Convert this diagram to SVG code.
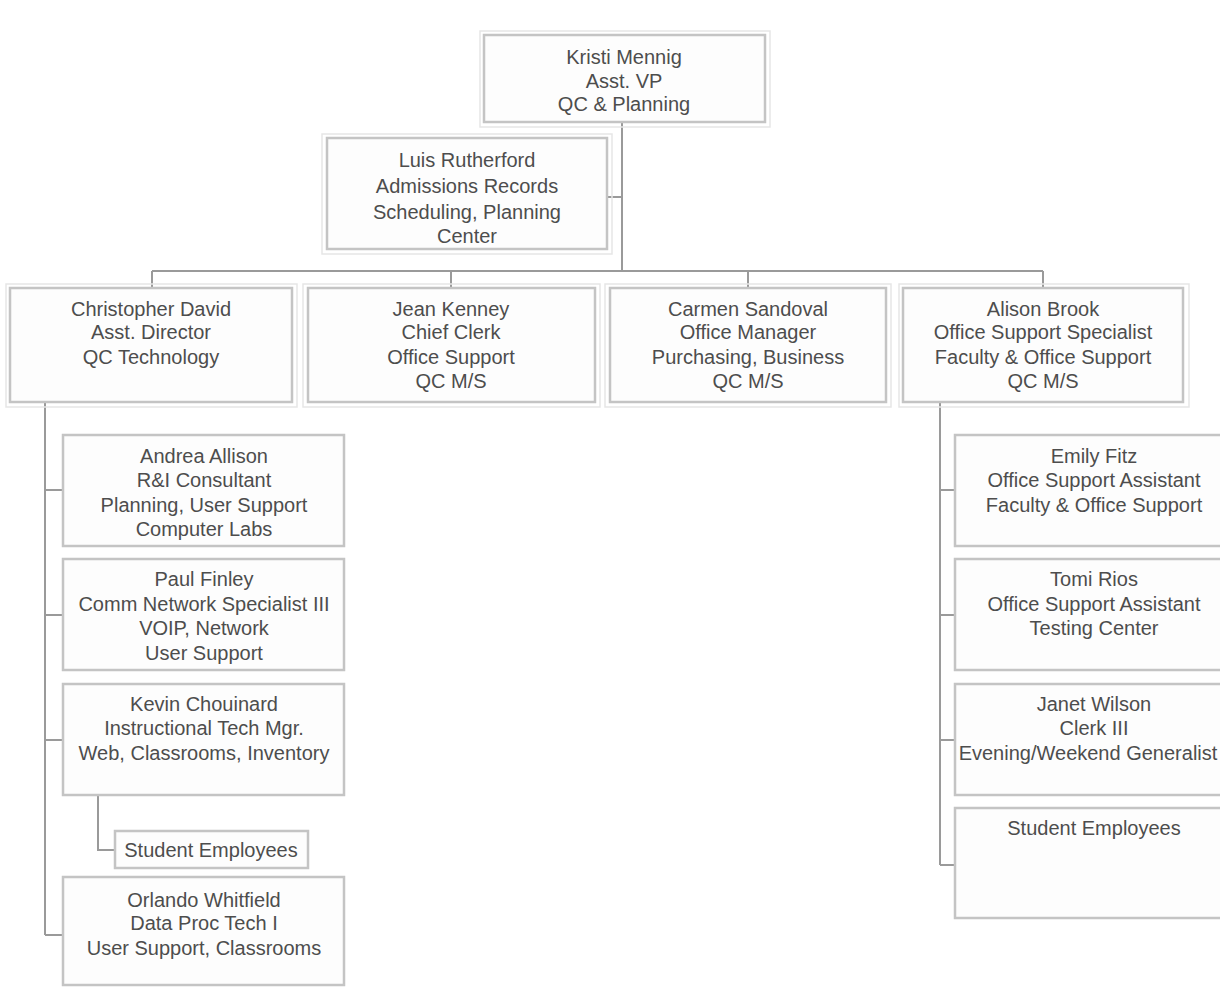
<svg xmlns="http://www.w3.org/2000/svg" width="1220" height="989" viewBox="0 0 1220 989">
<style>
.box{fill:#fdfdfd;stroke:#c4c4c4;stroke-width:2.5}
.sh{fill:none;stroke:#e6e6e6;stroke-width:1.5}
.t{font-family:"Liberation Sans",Arial,sans-serif;font-size:20px;fill:#4d4d4d;text-anchor:middle}
.c{fill:none;stroke:#9a9a9a;stroke-width:2}
</style>
<rect width="1220" height="989" fill="#ffffff"/>
<g id="connectors">
<path class="c" d="M622 122 V271"/>
<path class="c" d="M608 197 H622"/>
<path class="c" d="M152 271 H1043"/>
<path class="c" d="M152 271 V288 M451 271 V288 M748 271 V288 M1043 271 V288"/>
<path class="c" d="M45 402 V935 M45 490 H63 M45 615 H63 M45 740 H63 M45 935 H63"/>
<path class="c" d="M98 795 V850 H115"/>
<path class="c" d="M940 402 V865 M940 490 H955 M940 615 H955 M940 740 H955 M940 865 H955"/>
</g>
<g id="n-kristi">
<rect class="sh" x="480" y="31" width="290" height="96"/>
<rect class="box" x="484" y="35" width="281" height="87"/>
<text class="t" x="624" y="64">Kristi Mennig</text>
<text class="t" x="624" y="88">Asst. VP</text>
<text class="t" x="624" y="111">QC &amp; Planning</text>
</g>
<g id="n-luis">
<rect class="sh" x="322" y="134" width="290" height="120"/>
<rect class="box" x="327" y="138" width="280" height="111"/>
<text class="t" x="467" y="167">Luis Rutherford</text>
<text class="t" x="467" y="193">Admissions Records</text>
<text class="t" x="467" y="219">Scheduling, Planning</text>
<text class="t" x="467" y="243">Center</text>
</g>
<g id="n-christopher">
<rect class="sh" x="6" y="284" width="291" height="123"/>
<rect class="box" x="10" y="288" width="282" height="114"/>
<text class="t" x="151" y="316">Christopher David</text>
<text class="t" x="151" y="339">Asst. Director</text>
<text class="t" x="151" y="364">QC Technology</text>
</g>
<g id="n-jean">
<rect class="sh" x="303" y="284" width="297" height="123"/>
<rect class="box" x="308" y="288" width="287" height="114"/>
<text class="t" x="451" y="316">Jean Kenney</text>
<text class="t" x="451" y="339">Chief Clerk</text>
<text class="t" x="451" y="364">Office Support</text>
<text class="t" x="451" y="388">QC M/S</text>
</g>
<g id="n-carmen">
<rect class="sh" x="605" y="284" width="286" height="123"/>
<rect class="box" x="610" y="288" width="276" height="114"/>
<text class="t" x="748" y="316">Carmen Sandoval</text>
<text class="t" x="748" y="339">Office Manager</text>
<text class="t" x="748" y="364">Purchasing, Business</text>
<text class="t" x="748" y="388">QC M/S</text>
</g>
<g id="n-alison">
<rect class="sh" x="899" y="284" width="290" height="123"/>
<rect class="box" x="903" y="288" width="280" height="114"/>
<text class="t" x="1043" y="316">Alison Brook</text>
<text class="t" x="1043" y="339">Office Support Specialist</text>
<text class="t" x="1043" y="364">Faculty &amp; Office Support</text>
<text class="t" x="1043" y="388">QC M/S</text>
</g>
<g id="n-andrea">
<rect class="box" x="63" y="435" width="281" height="111"/>
<text class="t" x="204" y="463">Andrea Allison</text>
<text class="t" x="204" y="487">R&amp;I Consultant</text>
<text class="t" x="204" y="512">Planning, User Support</text>
<text class="t" x="204" y="536">Computer Labs</text>
</g>
<g id="n-paul">
<rect class="box" x="63" y="559" width="281" height="111"/>
<text class="t" x="204" y="586">Paul Finley</text>
<text class="t" x="204" y="611">Comm Network Specialist III</text>
<text class="t" x="204" y="635">VOIP, Network</text>
<text class="t" x="204" y="660">User Support</text>
</g>
<g id="n-kevin">
<rect class="box" x="63" y="684" width="281" height="111"/>
<text class="t" x="204" y="711">Kevin Chouinard</text>
<text class="t" x="204" y="735">Instructional Tech Mgr.</text>
<text class="t" x="204" y="760">Web, Classrooms, Inventory</text>
</g>
<g id="n-student-left">
<rect class="box" x="115" y="831" width="193" height="37"/>
<text class="t" x="211" y="857">Student Employees</text>
</g>
<g id="n-orlando">
<rect class="box" x="63" y="877" width="281" height="108"/>
<text class="t" x="204" y="907">Orlando Whitfield</text>
<text class="t" x="204" y="930">Data Proc Tech I</text>
<text class="t" x="204" y="955">User Support, Classrooms</text>
</g>
<g id="n-emily">
<rect class="box" x="955" y="435" width="280" height="111"/>
<text class="t" x="1094" y="463">Emily Fitz</text>
<text class="t" x="1094" y="487">Office Support Assistant</text>
<text class="t" x="1094" y="512">Faculty &amp; Office Support</text>
</g>
<g id="n-tomi">
<rect class="box" x="955" y="559" width="280" height="111"/>
<text class="t" x="1094" y="586">Tomi Rios</text>
<text class="t" x="1094" y="611">Office Support Assistant</text>
<text class="t" x="1094" y="635">Testing Center</text>
</g>
<g id="n-janet">
<rect class="box" x="955" y="684" width="280" height="111"/>
<text class="t" x="1094" y="711">Janet Wilson</text>
<text class="t" x="1094" y="735">Clerk III</text>
<text class="t" x="1088" y="760" font-size="19.5">Evening/Weekend Generalist</text>
</g>
<g id="n-student-right">
<rect class="box" x="955" y="808" width="280" height="110"/>
<text class="t" x="1094" y="835">Student Employees</text>
</g>
</svg>
